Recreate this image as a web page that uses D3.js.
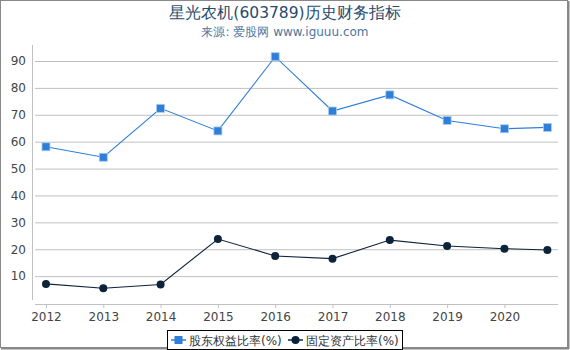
<!DOCTYPE html>
<html><head><meta charset="utf-8">
<script src="https://cdn.jsdelivr.net/npm/d3@7/dist/d3.min.js"></script>
<style>body{margin:0;background:#fff;}svg{display:block;font-family:"DejaVu Sans",sans-serif;}</style>
</head><body><svg id="c" width="570" height="350"></svg>
<script>
const xTimes = [2012, 2013, 2014, 2015, 2016, 2017, 2018, 2019, 2020, 2020.75];
const equityRatio = [58.1, 54.2, 72.4, 64.0, 91.6, 71.4, 77.4, 67.9, 64.8, 65.3];
const fixedAssetRatio = [7.1, 5.5, 6.9, 23.8, 17.5, 16.5, 23.4, 21.2, 20.2, 19.7];
const xTickYears = [2012, 2013, 2014, 2015, 2016, 2017, 2018, 2019, 2020];
const yTicks = [10, 20, 30, 40, 50, 60, 70, 80, 90];
const seriesNames = ["股东权益比率(%)", "固定资产比率(%)"];
const colors = ["#2f7ed8", "#0d233a"];

const svg = d3.select("#c");
const x = d3.scaleLinear().domain([2011.756, 2020.935]).range([32, 558]);
const y = d3.scaleLinear().domain([0, 90]).range([303, 61]);

// frame
svg.append("rect").attr("x",0.5).attr("y",0.5).attr("width",567).attr("height",347)
  .attr("fill","none").attr("stroke","#888").attr("stroke-width",1);
svg.append("line").attr("x1",568.5).attr("x2",568.5).attr("y1",1).attr("y2",349).attr("stroke","#888").attr("stroke-width",2);
svg.append("line").attr("x1",1).attr("x2",569).attr("y1",348.5).attr("y2",348.5).attr("stroke","#888").attr("stroke-width",2);

// title
svg.append("text").attr("x",285).attr("y",18).attr("text-anchor","middle")
  .attr("font-size",15.5).attr("fill","#274b6d").text("星光农机(603789)历史财务指标");
svg.append("text").attr("x",285).attr("y",36).attr("text-anchor","middle")
  .attr("font-size",12).attr("fill","#4d759e").text("来源: 爱股网 www.iguuu.com");

// grid
const yAxis = d3.axisLeft(y).tickValues(yTicks).tickSize(-523).tickPadding(6);
const gy = svg.append("g").attr("transform","translate(35,0)").call(yAxis);
gy.select(".domain").remove();
gy.selectAll(".tick line").attr("stroke","#c0c0c0");
gy.selectAll(".tick text").attr("font-size",12).attr("fill","#444").attr("x",-9)
  .attr("font-family","DejaVu Sans, sans-serif");
svg.append("line").attr("x1",32.5).attr("x2",32.5).attr("y1",45).attr("y2",300).attr("stroke","#c0c0c0");

// x axis
const xAxis = d3.axisBottom(x).tickValues(xTickYears).tickFormat(d3.format("d")).tickSize(4).tickPadding(4);
const gx = svg.append("g").attr("transform","translate(0,304)").call(xAxis);
gx.select(".domain").remove();
svg.append("line").attr("x1",35).attr("x2",558).attr("y1",304.5).attr("y2",304.5).attr("stroke","#c0c0c0");
gx.selectAll(".tick line").attr("stroke","#c0c0c0");
gx.selectAll(".tick text").attr("font-size",12).attr("fill","#444").attr("font-family","DejaVu Sans, sans-serif");

// series
const series = [equityRatio, fixedAssetRatio];
const line = d3.line().x((d,i)=>x(xTimes[i])).y(d=>y(d));
series.forEach((vals, si) => {
  svg.append("path").datum(vals).attr("d", line).attr("fill","none")
    .attr("stroke", colors[si]).attr("stroke-width", 1.1);
  const g = svg.append("g");
  if (si === 0) {
    g.selectAll("rect").data(vals).join("rect")
      .attr("x",(d,i)=>x(xTimes[i])-4).attr("y",d=>y(d)-4)
      .attr("width",8).attr("height",8).attr("fill",colors[0])
      .attr("stroke","#a8cdf2").attr("stroke-width",0.8);
  } else {
    g.selectAll("circle").data(vals).join("circle")
      .attr("cx",(d,i)=>x(xTimes[i])).attr("cy",d=>y(d)).attr("r",4)
      .attr("fill",colors[1]);
  }
});

// legend
const lg = svg.append("g");
lg.append("rect").attr("x",167.5).attr("y",330.5).attr("width",235).attr("height",19)
  .attr("fill","#fff").attr("stroke","#000").attr("stroke-width",1);
const items = [{x:171, tx:189}, {x:288, tx:306}];
items.forEach((it, i) => {
  lg.append("line").attr("x1",it.x).attr("x2",it.x+15).attr("y1",340).attr("y2",340)
    .attr("stroke",colors[i]).attr("stroke-width",1.5);
  if (i===0) lg.append("rect").attr("x",it.x+3.5).attr("y",336).attr("width",8).attr("height",8).attr("fill",colors[0]);
  else lg.append("circle").attr("cx",it.x+7.5).attr("cy",340).attr("r",4).attr("fill",colors[1]);
  lg.append("text").attr("x",it.tx).attr("y",344.5).attr("font-size",12).attr("fill","#333").text(seriesNames[i]);
});
</script></body></html>
